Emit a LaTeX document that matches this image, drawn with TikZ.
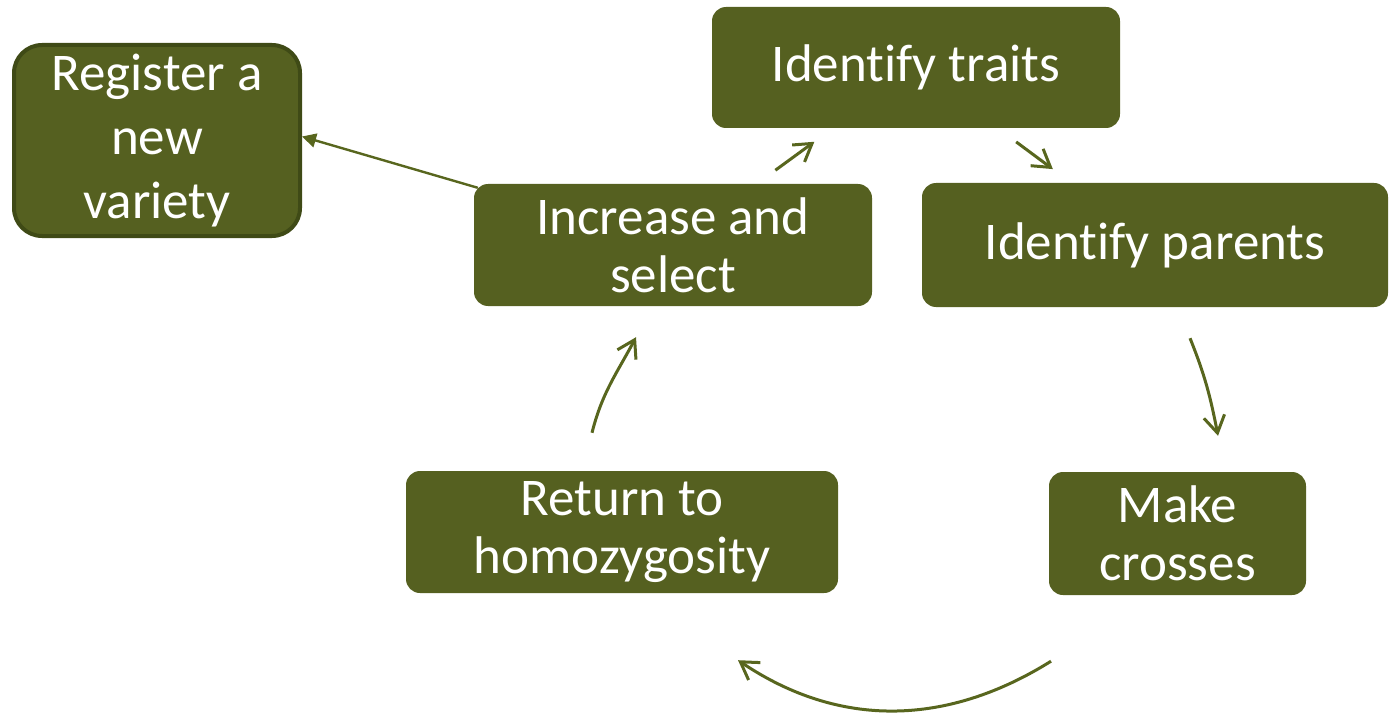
\documentclass[tikz,border=0pt]{standalone}
\usepackage{fontspec}
\setmainfont{Carlito}[Ligatures=NoCommon]
\usepackage{xcolor}
\usepackage{tikz}
\usetikzlibrary{positioning,calc,arrows.meta}

\definecolor{leafgreen}{HTML}{556020}
\definecolor{regedge}{HTML}{3F4A16}
\definecolor{stemgreen}{HTML}{58661E}

\begin{document}
\begin{tikzpicture}[x=1pt,y=1pt,
    stage/.style={fill=leafgreen, text=white, rounded corners=14pt, inner sep=0pt,
        minimum height=121pt, align=center, font=\fontsize{53}{58}\selectfont},
    loopar/.style={draw=stemgreen, line width=3pt, -{Straight Barb[length=17pt,width=21pt]}},
    link/.style={draw=stemgreen, line width=2.4pt, -{Triangle[length=14pt,width=14pt]}}]
        \useasboundingbox (0,0) rectangle (1391,-714);
        \clip (0,0) rectangle (1391,-714);
        % the five steps of the cycle
        \node[stage, minimum width=408pt] (traits) at (916,-67.5) {Ident\kern0pt ify traits};
        \node[stage, minimum width=466pt, minimum height=124pt] (parents) at (1155,-245) {Ident\kern0pt ify parents};
        \node[stage, minimum width=257pt, minimum height=123pt] (crosses) at (1177.5,-533.5) {Make\\crosses};
        \node[stage, minimum width=432pt, minimum height=122pt] (homo) at (622,-532) {Return to\\homozygosity};
        \node[stage, minimum width=398pt, minimum height=122pt] (inc) at (673,-245) {Increase and\\select};
        % end result
        \node[stage, draw=regedge, line width=4pt, rounded corners=28pt,
            minimum width=286pt, minimum height=191pt,
            font=\fontsize{53}{64}\selectfont] (reg) at (157,-140.5) {Register a\\new\\variety};
        \draw[link] ([shift={(4pt,-4pt)}]inc.north west) -- ([yshift=4pt]reg.east);
        % straight arrows at the top
        \draw[loopar, shorten <=23pt, shorten >=23pt] (inc) -- (traits);
        \draw[loopar, shorten <=23pt, shorten >=23pt] (traits) -- (parents);
        % curved arrows round the bottom
        \coordinate (a1) at ([xshift=35pt,yshift=-31pt]parents.south);
        \coordinate (a2) at ([xshift=40.5pt,yshift=36pt]crosses.north);
        \coordinate (b1) at ([xshift=-126.5pt,yshift=-66pt]crosses.south);
        \coordinate (b2) at ([xshift=116pt,yshift=-67pt]homo.south);
        \coordinate (c1) at ([xshift=-30pt,yshift=38pt]homo.north);
        \coordinate (c2) at ([xshift=-37pt,yshift=-31pt]inc.south);
        \draw[loopar] (a1) to[out=-68, in=101] (a2);
        \draw[loopar] (b1) to[out=212, in=-34] (b2);
        \draw[loopar] (c1) to[out=76, in=-118] (c2);
    \end{tikzpicture}
\end{document}
